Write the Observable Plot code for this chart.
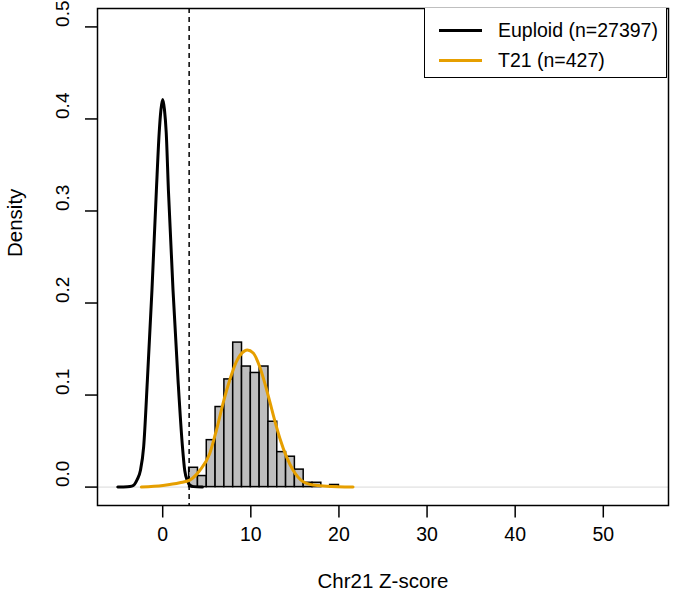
<!DOCTYPE html>
<html>
<head>
<meta charset="utf-8">
<script src="https://cdn.jsdelivr.net/npm/d3@7"></script>
<script src="https://cdn.jsdelivr.net/npm/@observablehq/plot@0.6"></script>
<style>
  html, body { margin: 0; padding: 0; background: white; }
  #wrap { position: relative; width: 675px; height: 603px; font-family: "Liberation Sans", Arial, Helvetica, sans-serif; }
  #legend { position: absolute; left: 424px; top: 8px; width: 243px; height: 70px; border: 1.5px solid black; border-top: none; background: white; box-sizing: border-box; }
  .row { position: absolute; left: 0; display: flex; align-items: center; font-size: 19.5px; color: black; white-space: nowrap; }
  .sw { width: 43px; height: 3px; margin-left: 14px; margin-right: 16px; }
</style>
</head>
<body>
<div id="wrap"></div>
<script>
// Histogram of T21 Chr21 Z-scores (bin start, density; bin width 1)
const histStart   = [3, 4, 5, 6, 7, 8, 9, 10, 11, 12, 13, 14, 15, 16, 17, 18, 19];
const histDensity = [0.021, 0.012, 0.051, 0.087, 0.117, 0.157, 0.131, 0.124, 0.131, 0.071, 0.038, 0.033, 0.019, 0.0047, 0.0047, 0, 0.0023];

// Euploid density curve
const euploidZ = [-5.1, -4.0, -3.5, -3.2, -2.9, -2.53, -2.16, -1.74, -1.22, -0.72, -0.4, -0.2, 0, 0.2, 0.4, 0.65, 1.17, 1.74, 2.24, 2.5, 2.8, 3.1, 3.5, 4.5];
const euploidD = [0, 0.0003, 0.001, 0.003, 0.008, 0.018, 0.044, 0.116, 0.214, 0.322, 0.385, 0.410, 0.421, 0.410, 0.385, 0.322, 0.214, 0.116, 0.044, 0.018, 0.007, 0.002, 0.0005, 0];

// T21 density curve
const t21Z = [-2.42, 0.04, 1.93, 3.07, 4.2, 5.34, 6.1, 6.85, 7.6, 8.35, 9.3, 9.6, 10.27, 11.02, 11.6, 12.16, 12.7, 13.3, 14.05, 14.8, 15.95, 17.1, 18.6, 21.6];
const t21D = [0, 0.0018, 0.0047, 0.0076, 0.018, 0.0365, 0.062, 0.091, 0.116, 0.136, 0.148, 0.149, 0.1457, 0.1305, 0.1125, 0.0925, 0.0727, 0.0528, 0.0329, 0.0184, 0.0058, 0.0022, 0.001, 0];

const xTicks = [0, 10, 20, 30, 40, 50];
const yTicks = [0, 0.1, 0.2, 0.3, 0.4, 0.5];
const cutoff = [3];
const seriesNames = ["Euploid (n=27397)", "T21 (n=427)"];
const seriesColors = ["black", "#E69F00"];

const hist = histStart.map((s, i) => ({x0: s, x1: s + 1, d: histDensity[i]}));
const euploid = euploidZ.map((z, i) => ({z, d: euploidD[i]}));
const t21 = t21Z.map((z, i) => ({z, d: t21D[i]}));

const chart = Plot.plot({
  width: 675,
  height: 603,
  marginLeft: 97,
  marginRight: 7,
  marginTop: 8,
  marginBottom: 98,
  x: {domain: [-7.4, 57.4]},
  y: {domain: [-0.02, 0.52]},
  style: {fontFamily: "'Liberation Sans', Arial, Helvetica, sans-serif", fontSize: "19px", background: "white", color: "black"},
  marks: [
    Plot.ruleY([0], {stroke: "#d9d9d9", strokeWidth: 1}),
    Plot.rect(hist, {x1: "x0", x2: "x1", y1: 0, y2: "d", fill: "#bebebe", stroke: "black", strokeWidth: 1.5, inset: 0}),
    Plot.ruleX(cutoff, {stroke: "black", strokeWidth: 1.5, strokeDasharray: "5,4"}),
    Plot.line(euploid, {x: "z", y: "d", stroke: seriesColors[0], strokeWidth: 3, curve: "monotone-x"}),
    Plot.line(t21, {x: "z", y: "d", stroke: seriesColors[1], strokeWidth: 3, curve: "monotone-x"}),
    Plot.frame({stroke: "black", strokeWidth: 1.5}),
    Plot.axisX({ticks: xTicks, tickSize: 12.5, tickFormat: () => "", label: null, strokeWidth: 1.5}),
    Plot.axisY({ticks: yTicks, tickSize: 12, tickFormat: () => "", label: null, strokeWidth: 1.5}),
    Plot.text(xTicks, {x: d => d, text: d => String(d), frameAnchor: "bottom", dy: 35, fontSize: 19.5}),
    Plot.text(yTicks, {y: d => d, text: d => d.toFixed(1), frameAnchor: "left", dx: -35, rotate: -90, fontSize: 19}),
    Plot.text(["Chr21 Z-score"], {text: d => d, frameAnchor: "bottom", dy: 82, fontSize: 20.5}),
    Plot.text(["Density"], {text: d => d, frameAnchor: "left", dx: -82, rotate: -90, fontSize: 20.5})
  ]
});

const wrap = document.getElementById("wrap");
wrap.appendChild(chart);

const legend = document.createElement("div");
legend.id = "legend";
seriesNames.forEach((name, i) => {
  const row = document.createElement("div");
  row.className = "row";
  row.style.top = (i === 0 ? 11 : 41) + "px";
  const sw = document.createElement("div");
  sw.className = "sw";
  sw.style.background = seriesColors[i];
  const t = document.createElement("span");
  t.textContent = name;
  row.appendChild(sw);
  row.appendChild(t);
  legend.appendChild(row);
});
wrap.appendChild(legend);
</script>
</body>
</html>
